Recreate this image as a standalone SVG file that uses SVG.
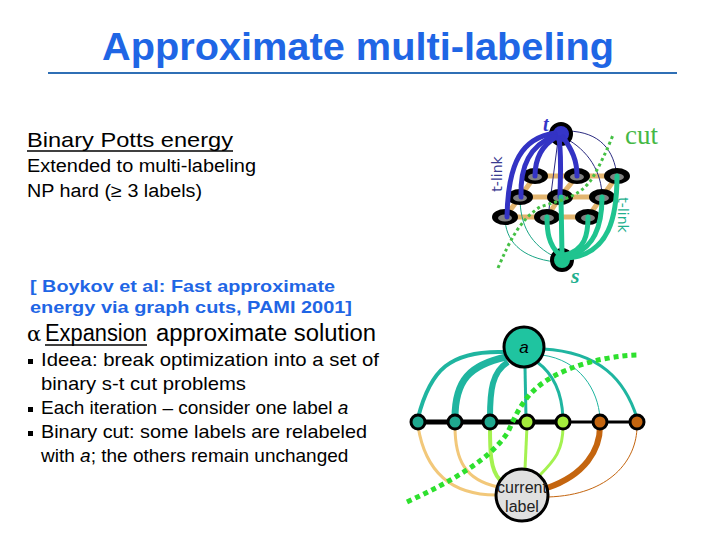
<svg xmlns="http://www.w3.org/2000/svg" width="720" height="540" viewBox="0 0 720 540">
<style>
.title{font-family:"Liberation Sans",Arial,sans-serif;font-weight:bold;fill:#1f66e5}
.body{font-family:"Liberation Sans",Arial,sans-serif;fill:#000}
.cite{font-family:"Liberation Sans",Arial,sans-serif;font-weight:bold;fill:#1f66e5;font-size:17px}
.grid{stroke:#e3b56f;stroke-width:5;fill:none;stroke-linecap:round}
.blueT{stroke:#3333c4;stroke-width:5;fill:none;stroke-linecap:round}
.blueThin{stroke:#2a2a80;stroke-width:1;fill:none}
.greenT{stroke:#1fc48f;stroke-width:5;fill:none;stroke-linecap:round}
.greenThin{stroke:#1aa585;stroke-width:1;fill:none}
.pix{fill:#000;stroke:#000;stroke-width:2}
.pixIn{fill:#808080}
.cut1{stroke:#45c045;stroke-width:3;fill:none;stroke-dasharray:3 3}
.cut2{stroke:#2ee02e;stroke-width:5;fill:none;stroke-dasharray:5 4}
.bn{stroke:#000;stroke-width:3}
</style>

<g id="title">
<text class="title" x="102" y="60" font-size="38" textLength="512" lengthAdjust="spacingAndGlyphs">Approximate multi-labeling</text>
<line x1="48" y1="73" x2="677" y2="73" stroke="#2f6fb5" stroke-width="2"/>
</g>

<g id="intro-text">
<text class="body" x="27" y="147" font-size="21" textLength="206" lengthAdjust="spacingAndGlyphs">Binary Potts energy</text>
<line x1="27" y1="151" x2="233" y2="151" stroke="#000" stroke-width="1.5"/>
<text class="body" x="27" y="172" font-size="18" textLength="229" lengthAdjust="spacingAndGlyphs">Extended to multi-labeling</text>
<text class="body" x="27" y="197" font-size="18" textLength="175" lengthAdjust="spacingAndGlyphs">NP hard (≥ 3 labels)</text>
</g>

<g id="citation">
<text class="cite" x="30" y="292" textLength="305" lengthAdjust="spacingAndGlyphs">[ Boykov et al: Fast approximate</text>
<text class="cite" x="30" y="313" textLength="322" lengthAdjust="spacingAndGlyphs">energy via graph cuts, PAMI 2001]</text>
</g>

<g id="expansion-text">
<text class="body" x="27" y="341" font-size="23"><tspan font-family="'DejaVu Serif',serif" font-size="21">α</tspan><tspan x="45" textLength="102" lengthAdjust="spacingAndGlyphs">Expansion</tspan><tspan x="156" textLength="220" lengthAdjust="spacingAndGlyphs">approximate solution</tspan></text>
<line x1="45" y1="345" x2="147" y2="345" stroke="#000" stroke-width="1.5"/>
<rect x="28" y="359" width="5" height="5" fill="#000"/>
<rect x="28" y="407" width="5" height="5" fill="#000"/>
<rect x="28" y="431" width="5" height="5" fill="#000"/>
<text class="body" x="41" y="366" font-size="19" textLength="338" lengthAdjust="spacingAndGlyphs">Ideea: break optimization into a set of</text>
<text class="body" x="41" y="390" font-size="19" textLength="205" lengthAdjust="spacingAndGlyphs">binary s-t cut problems</text>
<text class="body" x="41" y="414" font-size="19">Each iteration – consider one label <tspan font-style="italic">a</tspan></text>
<text class="body" x="41" y="438" font-size="19" textLength="326" lengthAdjust="spacingAndGlyphs">Binary cut: some labels are relabeled</text>
<text class="body" x="41" y="462" font-size="19">with <tspan font-style="italic">a</tspan>; the others remain unchanged</text>
</g>

<g id="connectors">
<g id="grid-edges">
<polyline class="grid" points="535,176 577,176 617,176"/>
<polyline class="grid" points="520,197 560,197 602,197"/>
<polyline class="grid" points="505,217 547,217 588,217"/>
<polyline class="grid" points="535,176 520,197 505,217"/>
<polyline class="grid" points="577,176 560,197 547,217"/>
<polyline class="grid" points="617,176 602,197 588,217"/>
</g>
<g id="thin-links">
<path class="blueThin" d="M558,140 L548,217"/>
<path class="blueThin" d="M565,138 C588,150 602,172 602,197"/>
<path class="blueThin" d="M568,131 C600,132 614,150 617,176"/>
<path class="greenThin" d="M556,262 C520,258 505,240 505,217"/>
<path class="greenThin" d="M557,258 C530,245 520,225 520,197"/>
</g>
</g>

<g id="pixels-top">
<g class="pix">
<ellipse cx="535" cy="176" rx="12" ry="7"/>
<ellipse cx="577" cy="176" rx="12" ry="7"/>
<ellipse cx="617" cy="176" rx="12" ry="7"/>
<ellipse cx="520" cy="197" rx="12" ry="7"/>
<ellipse cx="560" cy="197" rx="12" ry="7"/>
<ellipse cx="602" cy="197" rx="12" ry="7"/>
<ellipse cx="505" cy="217" rx="12" ry="7"/>
<ellipse cx="547" cy="217" rx="12" ry="7"/>
<ellipse cx="588" cy="217" rx="12" ry="7"/>
</g>
<g class="pixIn">
<ellipse cx="535" cy="177" rx="7" ry="3.5"/>
<ellipse cx="577" cy="177" rx="7" ry="3.5"/>
<ellipse cx="617" cy="177" rx="7" ry="3.5"/>
<ellipse cx="520" cy="198" rx="7" ry="3.5"/>
<ellipse cx="560" cy="198" rx="7" ry="3.5"/>
<ellipse cx="602" cy="198" rx="7" ry="3.5"/>
<ellipse cx="505" cy="218" rx="7" ry="3.5"/>
<ellipse cx="547" cy="218" rx="7" ry="3.5"/>
<ellipse cx="588" cy="218" rx="7" ry="3.5"/>
</g>
</g>

<g id="t-node">
<circle cx="561" cy="134" r="10" fill="#3535c8" stroke="#000" stroke-width="4"/>
<text x="543" y="131" font-family="'Liberation Serif',serif" font-style="italic" font-weight="bold" font-size="20" fill="#3535c8">t</text>
</g>
<g id="s-node">
<circle cx="562" cy="260" r="10" fill="#1fc48f" stroke="#000" stroke-width="4"/>
<text x="571" y="283" font-family="'Liberation Serif',serif" font-style="italic" font-weight="bold" font-size="22" fill="#1fb08f">s</text>
</g>

<g id="thick-links">
<path class="blueT" d="M555,133 C522,138 508,162 507,217"/>
<path class="blueT" d="M555,135 C530,146 520,165 521,197"/>
<path class="blueT" d="M556,137 C541,146 535,160 535,176"/>
<path class="blueT" d="M559,138 C562,160 560,180 560,197"/>
<path class="blueT" d="M563,137 C572,150 577,160 577,176"/>
<path class="greenT" d="M560,255 C548,245 547,230 547,217"/>
<path class="greenT" d="M562,255 L561,197"/>
<path class="greenT" d="M565,255 C585,250 588,235 588,217"/>
<path class="greenT" d="M566,257 C595,250 602,225 602,197"/>
<path class="greenT" d="M567,258 C610,255 617,215 617,176"/>
</g>

<g id="top-labels">
<text x="502" y="174" transform="rotate(-90 502 174)" text-anchor="middle" font-family="'DejaVu Sans',sans-serif" font-size="14" fill="#3a3a90">t-link</text>
<text x="618" y="215" transform="rotate(90 618 215)" text-anchor="middle" font-family="'DejaVu Sans',sans-serif" font-size="14" fill="#1fb08f">t-link</text>
<text x="625" y="144" font-family="'Liberation Serif',serif" font-size="27" fill="#45b845">cut</text>
</g>
<path id="cut-top" class="cut1" d="M498,268 C510,240 520,220 540,207 C560,200 580,198 593,177 C600,165 607,150 613,135"/>

<g id="bottom-links">
<path d="M505,352 C450,350 430,370 418,418" stroke="#1fb5a0" stroke-width="4" fill="none"/>
<path d="M506,357 C470,365 455,380 455,418" stroke="#1fb5a0" stroke-width="7" fill="none"/>
<path d="M508,362 C492,372 490,390 490,418" stroke="#1fb5a0" stroke-width="6" fill="none"/>
<path d="M525,367 L526,418" stroke="#1fb5a0" stroke-width="3" fill="none"/>
<path d="M537,362 C555,375 562,395 563,418" stroke="#1fb5a0" stroke-width="3" fill="none"/>
<path d="M542,355 C580,360 598,390 600,418" stroke="#1fb5a0" stroke-width="1" fill="none"/>
<path d="M543,349 C600,352 625,380 637,418" stroke="#1fb5a0" stroke-width="3" fill="none"/>
<path d="M496,495 C450,495 425,470 418,426" stroke="#f2c87a" stroke-width="3" fill="none"/>
<path d="M498,487 C465,480 455,460 455,426" stroke="#f2c87a" stroke-width="3" fill="none"/>
<path d="M500,480 C490,470 490,450 490,426" stroke="#a4f250" stroke-width="4" fill="none"/>
<path d="M525,469 L527,426" stroke="#a4f250" stroke-width="3" fill="none"/>
<path d="M540,475 C555,460 563,450 563,426" stroke="#a4f250" stroke-width="3" fill="none"/>
<path d="M547,488 C585,475 600,450 600,426" stroke="#c4650f" stroke-width="6" fill="none"/>
<path d="M548,497 C610,495 637,460 637,426" stroke="#c4650f" stroke-width="1" fill="none"/>
<line x1="418" y1="422" x2="560" y2="422" stroke="#000" stroke-width="5"/>
<line x1="560" y1="422" x2="637" y2="422" stroke="#000" stroke-width="3"/>
</g>

<g id="bottom-pixels">
<circle class="bn" cx="418" cy="422" r="7" fill="#1fa88f"/>
<circle class="bn" cx="455" cy="422" r="7" fill="#1fa88f"/>
<circle class="bn" cx="490" cy="422" r="7" fill="#1fa88f"/>
<circle class="bn" cx="527" cy="422" r="7" fill="#a4ec3c"/>
<circle class="bn" cx="563" cy="422" r="7" fill="#a4ec3c"/>
<circle class="bn" cx="600" cy="422" r="7" fill="#c4650f"/>
<circle class="bn" cx="637" cy="422" r="7" fill="#c4650f"/>
</g>

<g id="a-node">
<circle cx="524" cy="347" r="20" fill="#1fc4a0" stroke="#000" stroke-width="3"/>
<text x="524" y="353" text-anchor="middle" font-family="'Liberation Sans',sans-serif" font-style="italic" font-size="17" fill="#000">a</text>
</g>
<g id="current-node">
<circle cx="522" cy="495" r="26" fill="#e0e0e0" stroke="#000" stroke-width="3"/>
<text x="522" y="493" text-anchor="middle" font-family="'Liberation Sans',sans-serif" font-size="16" fill="#222">current</text>
<text x="522" y="512" text-anchor="middle" font-family="'Liberation Sans',sans-serif" font-size="16" fill="#222">label</text>
</g>
<path id="cut-bottom" class="cut2" d="M407,502 C450,482 490,460 508,432 C520,405 530,385 567,370 C590,360 620,355 640,355"/>
</svg>
